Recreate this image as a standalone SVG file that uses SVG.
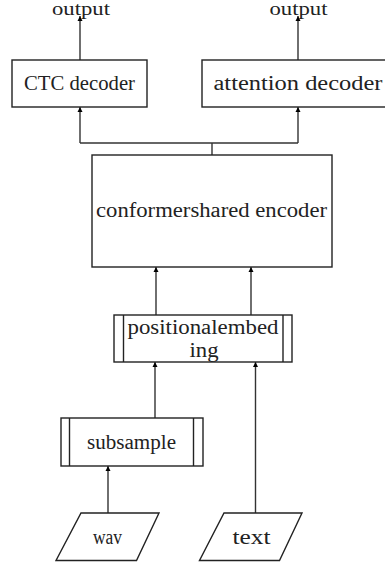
<svg xmlns="http://www.w3.org/2000/svg" width="385" height="566" viewBox="0 0 385 566">
<defs>
<style>
.box{fill:#fff;stroke:#222;stroke-width:1.4}
.ln{fill:none;stroke:#333;stroke-width:1.4}
.t{font-family:"Liberation Serif","Noto Sans CJK SC",serif;font-size:20px;fill:#222}
.o{font-size:18px}
</style>
<marker id="ah" viewBox="0 0 10 10" refX="10" refY="5" markerWidth="5" markerHeight="7" orient="auto" markerUnits="userSpaceOnUse">
<path d="M0,0 L10,5 L0,10 z" fill="#000"/>
</marker>
</defs>
<rect width="385" height="566" fill="#fff"/>
<g id="connectors">
<line class="ln" x1="80" y1="60" x2="80" y2="16" marker-end="url(#ah)"/>
<line class="ln" x1="298" y1="60" x2="298" y2="16" marker-end="url(#ah)"/>
<line class="ln" x1="212" y1="155" x2="212" y2="143"/>
<polyline class="ln" points="80,143 298,143"/>
<line class="ln" x1="80" y1="143" x2="80" y2="107" marker-end="url(#ah)"/>
<line class="ln" x1="298" y1="143" x2="298" y2="107" marker-end="url(#ah)"/>
<line class="ln" x1="156" y1="315" x2="156" y2="267" marker-end="url(#ah)"/>
<line class="ln" x1="251" y1="315" x2="251" y2="267" marker-end="url(#ah)"/>
<line class="ln" x1="155" y1="418" x2="155" y2="362" marker-end="url(#ah)"/>
<line class="ln" x1="255.5" y1="513" x2="255.5" y2="362" marker-end="url(#ah)"/>
<line class="ln" x1="108" y1="513" x2="108" y2="466" marker-end="url(#ah)"/>
</g>
<g id="out1"><text class="t o" x="52" y="14.5" textLength="58" lengthAdjust="spacingAndGlyphs">output</text></g>
<g id="out2"><text class="t o" x="269.5" y="14.5" textLength="58" lengthAdjust="spacingAndGlyphs">output</text></g>
<g id="ctc">
<rect class="box" x="12" y="60" width="135" height="47"/>
<text class="t" x="24" y="89.5" textLength="111" lengthAdjust="spacingAndGlyphs">CTC decoder</text>
</g>
<g id="attention">
<rect class="box" x="202" y="60" width="190" height="47"/>
<text class="t" x="213.5" y="89.5" textLength="169" lengthAdjust="spacingAndGlyphs">attention decoder</text>
</g>
<g id="encoder">
<rect class="box" x="92" y="155" width="240" height="112"/>
<text class="t" x="96" y="216.5" textLength="231" lengthAdjust="spacingAndGlyphs">conformershared encoder</text>
</g>
<g id="posemb">
<rect class="box" x="114" y="315" width="178" height="47"/>
<line class="box" x1="123.5" y1="315" x2="123.5" y2="362"/>
<line class="box" x1="283" y1="315" x2="283" y2="362"/>
<text class="t" x="127.5" y="333.5" textLength="151" lengthAdjust="spacingAndGlyphs">positionalembed</text>
<text class="t" x="189.5" y="356.5" textLength="29" lengthAdjust="spacingAndGlyphs">ing</text>
</g>
<g id="subsample">
<rect class="box" x="61" y="418" width="142" height="48"/>
<line class="box" x1="69.5" y1="418" x2="69.5" y2="466"/>
<line class="box" x1="193.5" y1="418" x2="193.5" y2="466"/>
<text class="t" x="87" y="448.5" textLength="89" lengthAdjust="spacingAndGlyphs">subsample</text>
</g>
<g id="wav">
<polygon class="box" points="81,513 159,513 136.5,560.5 56,560.5"/>
<text class="t" x="93" y="543.5" textLength="29" lengthAdjust="spacingAndGlyphs">wav</text>
</g>
<g id="text">
<polygon class="box" points="224,513 302,513 279.5,560.5 199.5,560.5"/>
<text class="t" x="232.5" y="543.5" textLength="38" lengthAdjust="spacingAndGlyphs">text</text>
</g>
</svg>
